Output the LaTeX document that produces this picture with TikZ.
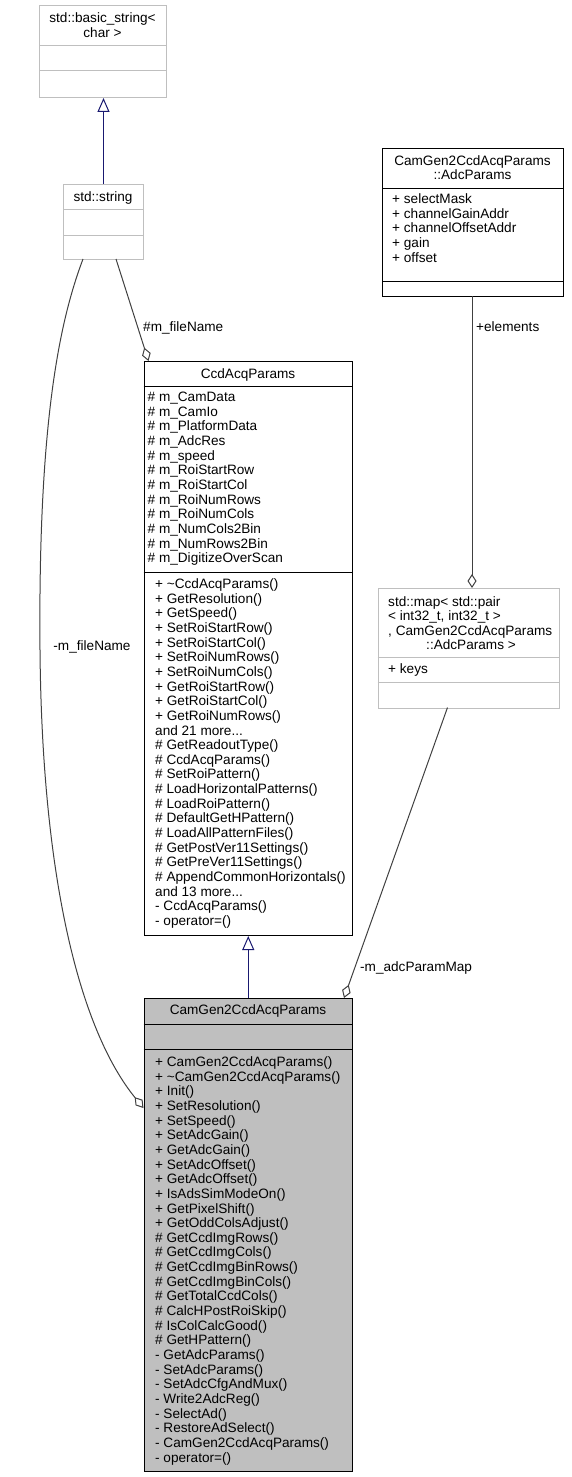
\documentclass[tikz,border=0pt]{standalone}
\usepackage{fontspec}
\setmainfont{Liberation Sans}
\usetikzlibrary{arrows.meta,calc}
\definecolor{navyline}{HTML}{191970}
\definecolor{edgegray}{HTML}{404040}
\definecolor{boxgray}{HTML}{BFBFBF}
\newcommand{\threedots}{.\kern0pt.\kern0pt.}
\tikzset{
  classbox/.style={draw, line width=1pt, inner sep=0pt, anchor=north west},
  graybox/.style={classbox, draw=boxgray},
  blackbox/.style={classbox, draw=black},
  sepline/.style={line width=1pt},
  txt/.style={inner sep=0pt, anchor=base west, font=\fontsize{13.6}{14.65}\selectfont},
  ctxt/.style={txt, anchor=base},
  gen/.style={draw=navyline, line width=1pt, -{Triangle[open, length=14pt, width=12pt]}},
  assoc/.style={draw=edgegray, line width=1pt, -{Diamond[open, length=14pt, width=9pt]}},
  lbl/.style={txt}
}
\begin{document}
\begin{tikzpicture}[x=1pt, y=-1pt]
\useasboundingbox (0,0) rectangle (572,1477);

% ---- std::basic_string< char >
\node[graybox, minimum width=127pt, minimum height=92pt] (bstr) at (39,5) {};
\draw[sepline, boxgray] (39,46) -- (166,46) (39,71) -- (166,71);
\node[ctxt] (bstrt1) at (102.5,22.5) {std::basic\_string<};
\node[ctxt] (bstrt2) at (102.5,37.5) {char >};

% ---- std::string
\node[graybox, minimum width=80pt, minimum height=75pt] (string) at (63,184) {};
\draw[sepline, boxgray] (63,209) -- (143,209) (63,235) -- (143,235);
\node[ctxt] (stringt) at (103,201.5) {std::string};

% ---- CamGen2CcdAcqParams::AdcParams
\node[blackbox, minimum width=181pt, minimum height=148pt] (adc) at (382,148) {};
\draw[sepline] (382,188) -- (563,188) (382,281) -- (563,281);
\node[ctxt] (adct1) at (472.5,165) {CamGen2CcdAcqParams};
\node[ctxt] (adct2) at (472.5,179.5) {::AdcParams};
\foreach \t [count=\i] in {+ selectMask, + channelGainAddr, + channelOffsetAddr, + gain, + offset}
  \node[txt] (adca\i) at (392,{203.5+(\i-1)*14.65}) {\t};

% ---- CcdAcqParams
\node[blackbox, minimum width=208.5pt, minimum height=574pt] (ccd) at (143.5,361) {};
\draw[sepline] (143.5,386) -- (352,386) (143.5,572) -- (352,572);
\node[ctxt] (ccdt) at (248,378.5) {CcdAcqParams};
\foreach \t [count=\i] in {\# m\_CamData, \# m\_CamIo, \# m\_PlatformData, \# m\_AdcRes, \# m\_speed,
  \# m\_RoiStartRow, \# m\_RoiStartCol, \# m\_RoiNumRows, \# m\_RoiNumCols, \# m\_NumCols2Bin,
  \# m\_NumRows2Bin, \# m\_DigitizeOverScan}
  \node[txt] (ccda\i) at (147.5,{401.5+(\i-1)*14.65}) {\t};
\foreach \t [count=\i] in {+ \textasciitilde CcdAcqParams(), + GetResolution(), + GetSpeed(),
  + SetRoiStartRow(), + SetRoiStartCol(), + SetRoiNumRows(), + SetRoiNumCols(),
  + GetRoiStartRow(), + GetRoiStartCol(), + GetRoiNumRows(), {and 21 more\threedots},
  \# GetReadoutType(), \# CcdAcqParams(), \# SetRoiPattern(), \# LoadHorizontalPatterns(),
  \# LoadRoiPattern(), \# DefaultGetHPattern(), \# LoadAllPatternFiles(),
  \# GetPostVer11Settings(), \# GetPreVer11Settings(), \# AppendCommonHorizontals(),
  {and 13 more\threedots}, - CcdAcqParams(), - operator=()}
  \node[txt] (ccdm\i) at (155,{588.5+(\i-1)*14.65}) {\t};

% ---- std::map< ... >
\node[graybox, minimum width=181.5pt, minimum height=119.5pt] (map) at (377.5,588) {};
\draw[sepline, boxgray] (377.5,657) -- (559,657) (377.5,682) -- (559,682);
\node[txt] (mapt1) at (388,606) {std::map< std::pair};
\node[txt] (mapt2) at (388,620.5) {< int32\_t, int32\_t >};
\node[txt] (mapt3) at (388,635) {, CamGen2CcdAcqParams};
\node[ctxt] (mapt4) at (471,649.5) {::AdcParams >};
\node[txt] (mapa1) at (388,673.5) {+ keys};

% ---- CamGen2CcdAcqParams
\node[blackbox, fill=boxgray, minimum width=208.5pt, minimum height=473pt] (cam) at (143.5,998) {};
\draw[sepline] (143.5,1024) -- (352,1024) (143.5,1049) -- (352,1049);
\node[ctxt] (camt) at (248,1014.5) {CamGen2CcdAcqParams};
\foreach \t [count=\i] in {+ CamGen2CcdAcqParams(), + \textasciitilde CamGen2CcdAcqParams(), + Init(),
  + SetResolution(), + SetSpeed(), + SetAdcGain(), + GetAdcGain(), + SetAdcOffset(),
  + GetAdcOffset(), + IsAdsSimModeOn(), + GetPixelShift(), + GetOddColsAdjust(),
  \# GetCcdImgRows(), \# GetCcdImgCols(), \# GetCcdImgBinRows(), \# GetCcdImgBinCols(),
  \# GetTotalCcdCols(), \# CalcHPostRoiSkip(), \# IsColCalcGood(), \# GetHPattern(),
  - GetAdcParams(), - SetAdcParams(), - SetAdcCfgAndMux(), - Write2AdcReg(), - SelectAd(),
  - RestoreAdSelect(), - CamGen2CcdAcqParams(), - operator=()}
  \node[txt] (camm\i) at (155,{1066.5+(\i-1)*14.65}) {\t};

% ---- connector end points
\coordinate (strA) at (116,259);
\coordinate (strB) at (83,259);
\coordinate (ccdIn) at (148.5,361);
\coordinate (camIn) at (143.5,1108);
\coordinate (adcOut) at (472,296);
\coordinate (mapIn) at (472,588);
\coordinate (mapOut) at (447.5,707.5);
\coordinate (camIn2) at (344,998);

% ---- generalizations
\draw[gen] (string.north) -- (string.north |- bstr.south);
\draw[gen] (cam.north) -- (cam.north |- ccd.south);

% ---- associations
\draw[assoc] (strA) -- (ccdIn);
\node[lbl] (l1) at (143,331.5) {\#m\_fileName};
\draw[assoc] (strB) .. controls (60,320) and (38,420) .. (40,650)
  .. controls (42,880) and (80,1030) .. (camIn);
\node[ctxt] (l2) at (92,650.5) {-m\_fileName};
\draw[assoc] (adcOut) -- (mapIn);
\node[lbl] (l3) at (476,331.5) {+elements};
\draw[assoc] (mapOut) -- (camIn2);
\node[lbl] (l4) at (360,971.5) {-m\_adcParamMap};
\end{tikzpicture}
\end{document}
